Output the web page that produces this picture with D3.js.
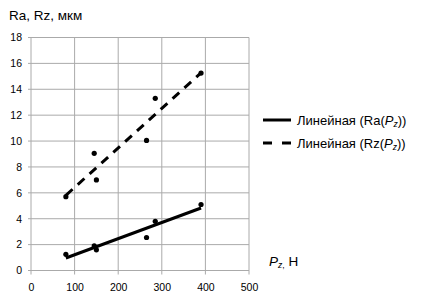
<!DOCTYPE html>
<html>
<head>
<meta charset="utf-8">
<script src="https://cdn.jsdelivr.net/npm/d3@7"></script>
<style>
  body { margin: 0; background: #fff; }
  svg { font-family: "Liberation Sans", Arial, sans-serif; }
  .grid line { stroke: #aaaaaa; stroke-width: 1; }
  .axis text { font-size: 10.5px; fill: #000; }
  .axis path { display: none; }
  .axis line { stroke: #aaaaaa; }
</style>
</head>
<body>
<svg id="chart" width="422" height="300"></svg>
<script>
// measured points, P_z in N
var pz = [80, 145, 150, 265, 285, 390];
var ra = [1.25, 1.9, 1.6, 2.55, 3.8, 5.1];
var rz = [5.7, 9.05, 7.0, 10.05, 13.3, 15.25];
var xTicks = [0, 100, 200, 300, 400, 500];
var yTicks = [0, 2, 4, 6, 8, 10, 12, 14, 16, 18];
var legendLabels = ["Ra", "Rz"];

var svg = d3.select("#chart"),
  margin = { top: 37.5, left: 31, right: 173, bottom: 29.5 },
  width = +svg.attr("width") - margin.left - margin.right,
  height = +svg.attr("height") - margin.top - margin.bottom;

var x = d3.scaleLinear().domain([0, 500]).range([0, width]),
  y = d3.scaleLinear().domain([0, 18]).range([height, 0]);

var g = svg.append("g")
  .attr("transform", "translate(" + margin.left + "," + margin.top + ")");

// grid
g.append("g").attr("class", "grid")
  .selectAll("line.h").data(yTicks).enter().append("line")
  .attr("x1", -3).attr("x2", width)
  .attr("y1", function (d) { return y(d); })
  .attr("y2", function (d) { return y(d); });
g.append("g").attr("class", "grid")
  .selectAll("line.v").data(xTicks).enter().append("line")
  .attr("x1", function (d) { return x(d); })
  .attr("x2", function (d) { return x(d); })
  .attr("y1", 0).attr("y2", height + 4);

g.append("g")
  .attr("class", "axis")
  .attr("transform", "translate(0," + height + ")")
  .call(d3.axisBottom(x).tickValues(xTicks).tickSize(0).tickPadding(13));

g.append("g")
  .attr("class", "axis")
  .call(d3.axisLeft(y).tickValues(yTicks).tickSize(0).tickPadding(9));

// least squares trend line
function fit(xs, ys) {
  var mx = d3.mean(xs), my = d3.mean(ys), sxy = 0, sxx = 0;
  xs.forEach(function (v, i) {
    sxy += (v - mx) * (ys[i] - my);
    sxx += (v - mx) * (v - mx);
  });
  var b = sxy / sxx, a = my - b * mx;
  var x0 = d3.min(xs), x1 = d3.max(xs);
  return [[x0, a + b * x0], [x1, a + b * x1]];
}

var line = d3.line()
  .x(function (d) { return x(d[0]); })
  .y(function (d) { return y(d[1]); });

[ra, rz].forEach(function (vals, k) {
  g.append("path")
    .datum(fit(pz, vals))
    .attr("d", line)
    .attr("fill", "none")
    .attr("stroke", "#000")
    .attr("stroke-width", 3)
    .attr("stroke-dasharray", k === 1 ? "9,7" : null);

  g.selectAll(".dot" + k)
    .data(vals)
    .enter().append("circle")
    .attr("cx", function (d, i) { return x(pz[i]); })
    .attr("cy", function (d) { return y(d); })
    .attr("r", 2.6)
    .attr("fill", "#000");
});

// axis titles
svg.append("text")
  .attr("x", 9).attr("y", 19.5)
  .attr("font-size", "13.5px")
  .text("Ra, Rz, мкм");

var xt = svg.append("text")
  .attr("x", 269).attr("y", 266)
  .attr("font-size", "13.5px");
xt.append("tspan").attr("font-style", "italic").text("P");
xt.append("tspan").attr("font-style", "italic").attr("font-size", "8.5px").attr("dy", 2).text("z");
xt.append("tspan").attr("font-size", "8.5px").text(",");
xt.append("tspan").attr("dy", -2).text(" Н");

// legend
var leg = svg.append("g")
  .selectAll("g").data(legendLabels).enter().append("g")
  .attr("transform", function (d, i) { return "translate(263," + (120 + i * 23) + ")"; });

leg.append("line")
  .attr("x1", 0).attr("x2", 28)
  .attr("stroke", "#000").attr("stroke-width", 3)
  .attr("stroke-dasharray", function (d, i) { return i === 1 ? "9,10" : null; });

var lt = leg.append("text")
  .attr("x", 34).attr("y", 4.5)
  .attr("font-size", "13px");
lt.append("tspan").text(function (d) { return "Линейная (" + d + "("; });
lt.append("tspan").attr("font-style", "italic").text("P");
lt.append("tspan").attr("font-style", "italic").attr("font-size", "8.5px").attr("dy", 2).text("z");
lt.append("tspan").attr("dy", -2).text("))");
</script>
</body>
</html>
